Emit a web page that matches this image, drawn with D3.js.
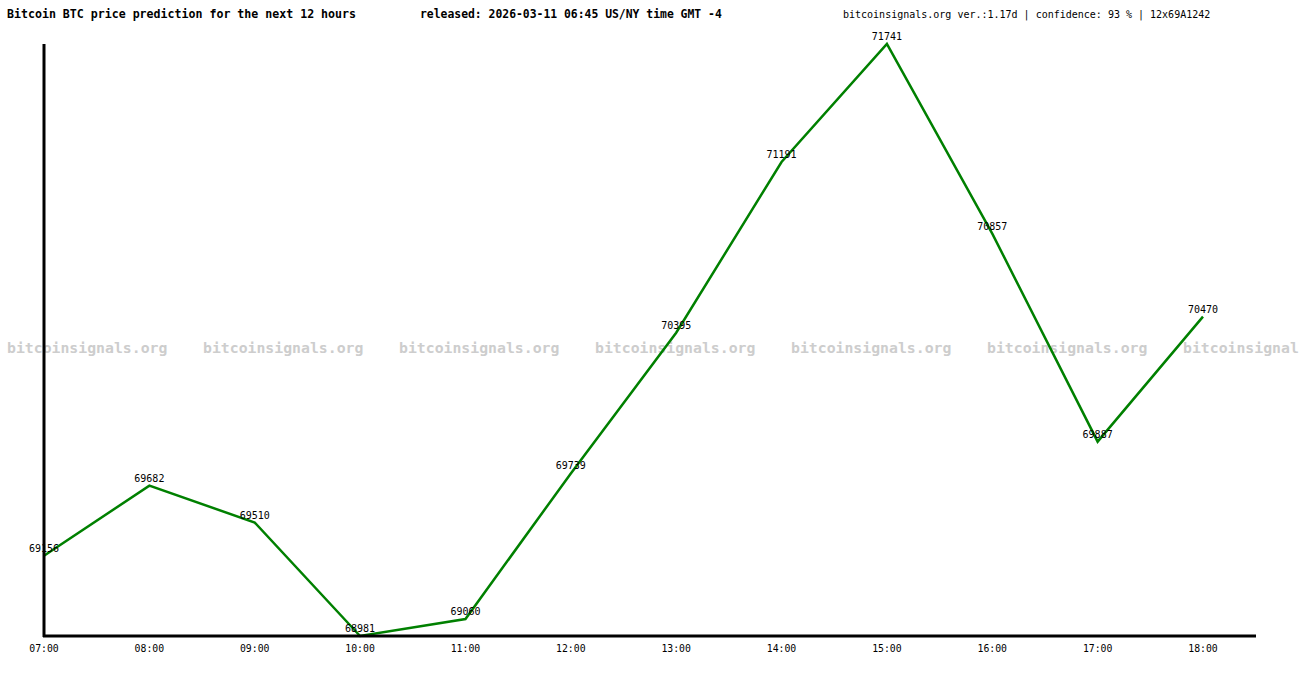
<!DOCTYPE html>
<html><head><meta charset="utf-8">
<script src="https://cdn.jsdelivr.net/npm/d3@7"></script>
<style>html,body{margin:0;padding:0;background:#fff;overflow:hidden}svg{display:block}</style>
</head><body>
<script>
const hours = ["07:00","08:00","09:00","10:00","11:00","12:00","13:00","14:00","15:00","16:00","17:00","18:00"];
const values = [69355, 69682, 69510, 68981, 69060, 69739, 70395, 71191, 71741, 70857, 69887, 70470];
const labels = ["69156","69682","69510","68981","69060","69739","70395","71191","71741","70857","69887","70470"];
const title = "Bitcoin BTC price prediction for the next 12 hours";
const released = "released: 2026-03-11 06:45 US/NY time GMT -4";
const info = "bitcoinsignals.org ver.:1.17d | confidence: 93 % | 12x69A1242";
const watermark = "bitcoinsignals.org";

const W = 1300, H = 680;
const svg = d3.select("body").append("svg").attr("width", W).attr("height", H);
const mono = "'DejaVu Sans Mono', 'Liberation Mono', monospace";

const x = d3.scalePoint().domain(hours).range([44, 1203]);
const y = d3.scaleLinear().domain([d3.min(values), d3.max(values)]).range([636, 44]);

// watermark (repeated; the last copy is shortened where the page edge cuts it)
const wmSize = 14.8, wmChar = wmSize * 0.602;
const wmX = d3.range(7, W, 196);
svg.append("g").selectAll("text").data(wmX).join("text")
  .attr("x", d => d).attr("y", 353)
  .attr("font-family", mono).attr("font-size", wmSize).attr("font-weight", "bold")
  .attr("fill", "#cdcdcd")
  .text(d => watermark.slice(0, Math.max(0, Math.floor((W - d) / wmChar))));

// header
svg.append("text").attr("x", 7).attr("y", 18).attr("font-family", mono)
  .attr("font-size", 11.6).attr("font-weight", "bold").text(title);
svg.append("text").attr("x", 420).attr("y", 18).attr("font-family", mono)
  .attr("font-size", 11.4).attr("font-weight", "bold").text(released);
svg.append("text").attr("x", 843).attr("y", 18).attr("font-family", mono)
  .attr("font-size", 10).text(info);

// line
const line = d3.line().x((d, i) => x(hours[i])).y(d => y(d));
svg.append("path").datum(values).attr("d", line)
  .attr("fill", "none").attr("stroke", "#008000").attr("stroke-width", 2.5)
  .attr("stroke-linejoin", "miter");

// axes
svg.append("line").attr("x1", 44).attr("x2", 44).attr("y1", 44).attr("y2", 637)
  .attr("stroke", "#000").attr("stroke-width", 3);
svg.append("line").attr("x1", 43).attr("x2", 1256).attr("y1", 636).attr("y2", 636)
  .attr("stroke", "#000").attr("stroke-width", 3);

// x tick labels
svg.append("g").selectAll("text").data(hours).join("text")
  .attr("x", d => x(d)).attr("y", 652).attr("text-anchor", "middle")
  .attr("font-family", mono).attr("font-size", 9.8).text(d => d);

// data labels
svg.append("g").selectAll("text").data(values).join("text")
  .attr("x", (d, i) => x(hours[i])).attr("y", d => y(d) - 4).attr("text-anchor", "middle")
  .attr("font-family", mono).attr("font-size", 10).attr("fill", "#000")
  .text((d, i) => labels[i]);
</script>
</body></html>
